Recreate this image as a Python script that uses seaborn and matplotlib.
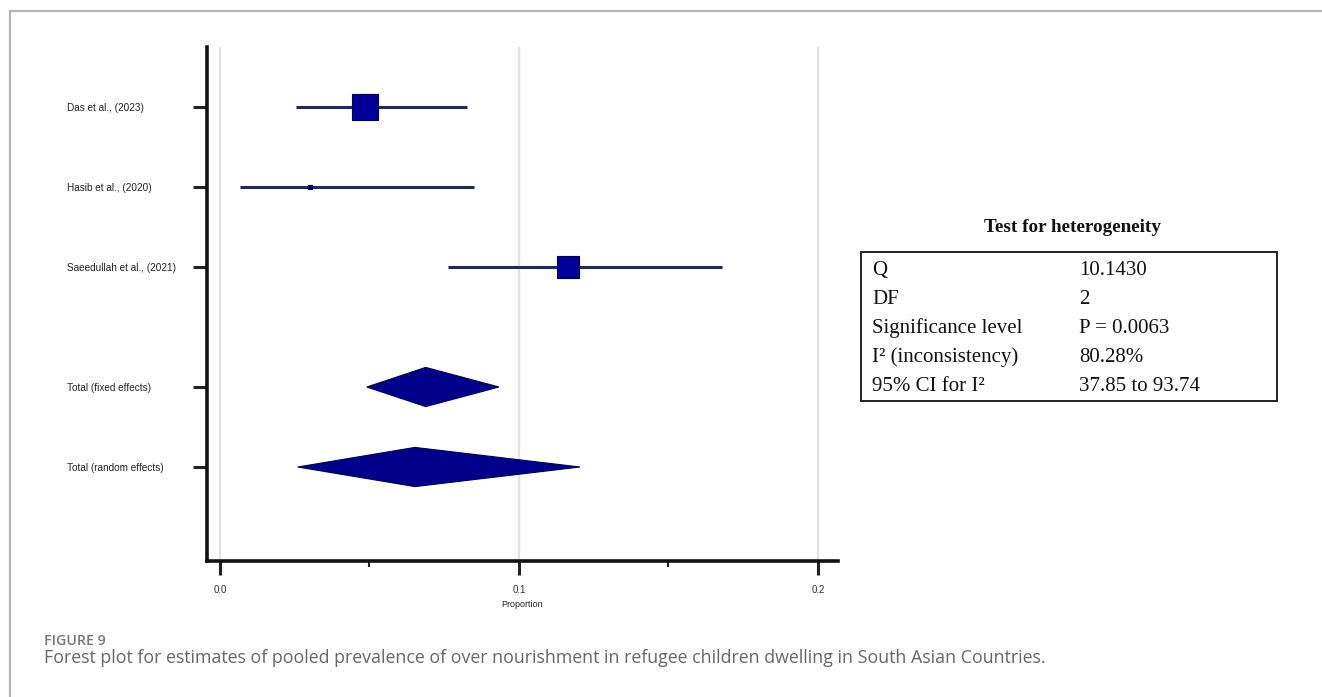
import matplotlib
matplotlib.use("Agg")
import matplotlib.pyplot as plt
from matplotlib.lines import Line2D
from matplotlib.patches import Rectangle
import numpy as np
import pandas as pd
import seaborn as sns

# ---------------- data ----------------
studies = ["Das et al., (2023)", "Hasib et al., (2020)", "Saeedullah et al., (2021)"]
study_est = [0.0485, 0.0301, 0.1164]
study_lo = [0.0254, 0.0067, 0.0763]
study_hi = [0.0826, 0.0849, 0.1680]
study_weight = [55.8, 2.1, 42.2]

totals = ["Total (fixed effects)", "Total (random effects)"]
total_est = [0.0688, 0.0652]
total_lo = [0.0491, 0.0260]
total_hi = [0.0933, 0.1204]

x_ticks = [0.0, 0.1, 0.2]
x_tick_labels = ["0.0", "0.1", "0.2"]
x_label = "Proportion"

het_title = "Test for heterogeneity"
het_names = ["Q", "DF", "Significance level", "I² (inconsistency)", "95% CI for I²"]
het_values = ["10.1430", "2", "P = 0.0063", "80.28%", "37.85 to 93.74"]

fig_label = "FIGURE 9"
caption = ("Forest plot for estimates of pooled prevalence of over nourishment in "
           "refugee children dwelling in South Asian Countries.")

# ---------------- style ----------------
sns.set_theme(style="white")
plt.rcParams["font.family"] = ["Liberation Sans", "DejaVu Sans"]

fig = plt.figure(figsize=(13.22, 6.97), dpi=100)
fig.patch.set_facecolor("white")

W, H = 1322, 697
ax = fig.add_axes([207 / W, 1 - 561 / H, (838 - 207) / W, (561 - 47) / H])

# row positions (layout)
study_y = np.arange(len(studies), dtype=float)
total_y = len(studies) + 0.5 + np.arange(len(totals), dtype=float)

df = pd.DataFrame({"est": study_est, "y": study_y, "weight": study_weight})

line_col = "#1b2d5c"
box_col = "#000099"
dia_col = "#00008b"

# CI lines
ax.hlines(study_y, study_lo, study_hi, color=line_col, lw=2.2, zorder=2)

# squares sized by weight
sns.scatterplot(data=df, x="est", y="y", size="weight", sizes=(0, 340),
                size_norm=(0, max(study_weight)), marker="s", color=box_col,
                edgecolor="#00005a", linewidth=0.8, legend=False, ax=ax, zorder=3)

# pooled diamonds
half_h = 0.245
for y, lo, est, hi in zip(total_y, total_lo, total_est, total_hi):
    ax.fill([lo, est, hi, est], [y, y - half_h, y, y + half_h],
            facecolor=dia_col, edgecolor="#00005a", lw=0.8, zorder=3)

# axes limits & ticks
ax.set_xlim(-0.00435, 0.2067)
ax.set_ylim(total_y[-1] + 1.175, -0.75)

ax.set_xticks(x_ticks)
ax.set_xticklabels(x_tick_labels, fontsize=7, color="#333333")
ax.set_xticks([0.05, 0.15], minor=True)
ax.set_xlabel(x_label, fontsize=6.5, color="#222222", labelpad=4)
ax.set_ylabel("")

ax.set_yticks(list(study_y) + list(total_y))
ax.set_yticklabels(studies + totals, fontsize=7.2, color="#222222")
for lab in ax.get_yticklabels():
    lab.set_horizontalalignment("left")

ax.tick_params(axis="y", which="major", left=True, length=10, width=2.2,
               color="#222222", pad=(207 - 67 - 14) * 0.72)
ax.tick_params(axis="x", which="major", bottom=True, length=10, width=2.2,
               color="#222222", pad=7)
ax.tick_params(axis="x", which="minor", bottom=True, length=4, width=1.5,
               color="#222222")

ax.grid(True, axis="x", which="major", color="#e2e2e2", lw=1.6)
ax.grid(False, axis="y")
ax.set_axisbelow(True)

sns.despine(ax=ax, top=True, right=True)
for s in ["left", "bottom"]:
    ax.spines[s].set_color("#111111")
    ax.spines[s].set_linewidth(2.6)
ax.set_facecolor("white")

# ---------------- heterogeneity table ----------------
serif = ["Liberation Serif", "DejaVu Serif"]
fig.text(1072 / W, 1 - 227 / H, het_title, ha="center", va="center",
         fontsize=13.8, fontweight="bold", family=serif, color="#111111")
fig.add_artist(Rectangle((861 / W, 1 - 401 / H), (1277 - 861) / W, (401 - 252) / H,
                         transform=fig.transFigure, fill=False,
                         edgecolor="#222222", lw=1.4))
row_y0, row_dy = 270, 29.2
for i, (n, v) in enumerate(zip(het_names, het_values)):
    yy = 1 - (row_y0 + i * row_dy) / H
    fig.text(872 / W, yy, n, ha="left", va="center", fontsize=15,
             family=serif, color="#111111")
    fig.text(1079 / W, yy, v, ha="left", va="center", fontsize=15,
             family=serif, color="#111111")

# ---------------- caption & frame ----------------
cap_font = ["Open Sans", "DejaVu Sans"]
fig.text(44 / W, 1 - 645 / H, fig_label, ha="left", va="baseline", fontsize=10.2,
         fontweight="semibold", family=cap_font, color="#777777")
fig.text(44 / W, 1 - 663 / H, caption, ha="left", va="baseline", fontsize=12.8,
         family=cap_font, color="#666666")

fig.add_artist(Line2D([9.5 / W, 1], [1 - 11 / H, 1 - 11 / H],
                      transform=fig.transFigure, color="#b5b5b5", lw=1.6))
fig.add_artist(Line2D([9.5 / W, 9.5 / W], [0, 1 - 11 / H],
                      transform=fig.transFigure, color="#b5b5b5", lw=1.6))

fig.savefig("out.png", dpi=100, facecolor="white")
